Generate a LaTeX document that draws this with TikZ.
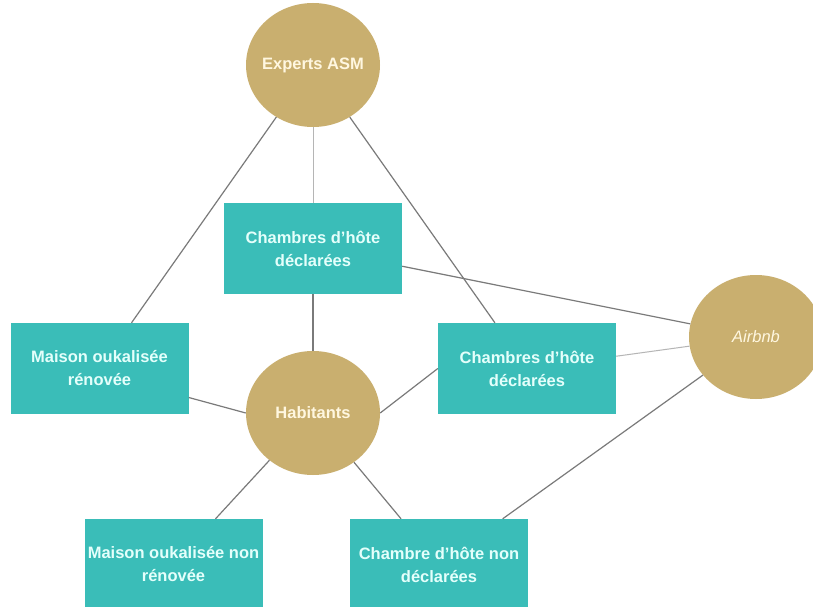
\documentclass[tikz,border=0pt]{standalone}
\usepackage{fontspec}
\setmainfont{Liberation Sans}
\usetikzlibrary{positioning,shapes.geometric}
\definecolor{gold}{HTML}{C9AF6F}
\definecolor{tealbox}{HTML}{3ABDB8}
\definecolor{cream}{HTML}{FFF7E0}
\definecolor{mint}{HTML}{E4FFFB}
\definecolor{edge}{HTML}{7A7A7A}
\definecolor{edgelight}{HTML}{B5B5B5}
\begin{document}
\begin{tikzpicture}[
  x=1pt, y=-1pt,
  font=\fontsize{16.5}{23}\selectfont\bfseries,
  c/.style={ellipse, fill=gold, text=cream, minimum width=134pt,
    minimum height=124pt, inner xsep=-8pt, inner ysep=0pt},
  r/.style={rectangle, fill=tealbox, text=mint, align=center,
    minimum width=178pt, minimum height=91pt, inner sep=0pt},
  l/.style={draw=edge, line width=1.2pt},
  lt/.style={draw=edgelight, line width=1pt}
]
\fill[white] (0,0) rectangle (813,607);
\useasboundingbox (0,0) rectangle (813,607);
\clip (0,0) rectangle (813,607);
\node[c] (exp) at (313,65) {Experts ASM};
\node[c] (hab) at (313,413) {Habitants};
\node[c] (air) at (756,337) {\mdseries\itshape Airbnb};
\node[r] (ch1) at (313,248.5) {Chambres d'hôte\\déclarées};
\node[r] (mr) at (99.5,368.5) {Maison oukalisée\\rénovée};
\node[r] (ch2) at (527,368.5) {Chambres d'hôte\\déclarées};
\node[r] (mnr) at (173.5,564.5) {Maison oukalisée non\\rénovée};
\node[r] (cnd) at (439,564.5) {Chambre d'hôte non\\déclarées};
\draw[l] (exp)--(mr);
\draw[lt] (exp)--(ch1);
\draw[l] (exp)--(ch2);
\draw[l] (ch1)--(air);
\draw[lt] (ch2)--(air);
\draw[l] (hab)--(ch1);
\draw[l] (mr.-18)--(hab.west);
\draw[l] (hab.east)--(ch2.west);
\draw[l] (hab)--(mnr);
\draw[l] (hab)--(cnd);
\draw[l] (air)--(cnd);
\end{tikzpicture}
\end{document}
